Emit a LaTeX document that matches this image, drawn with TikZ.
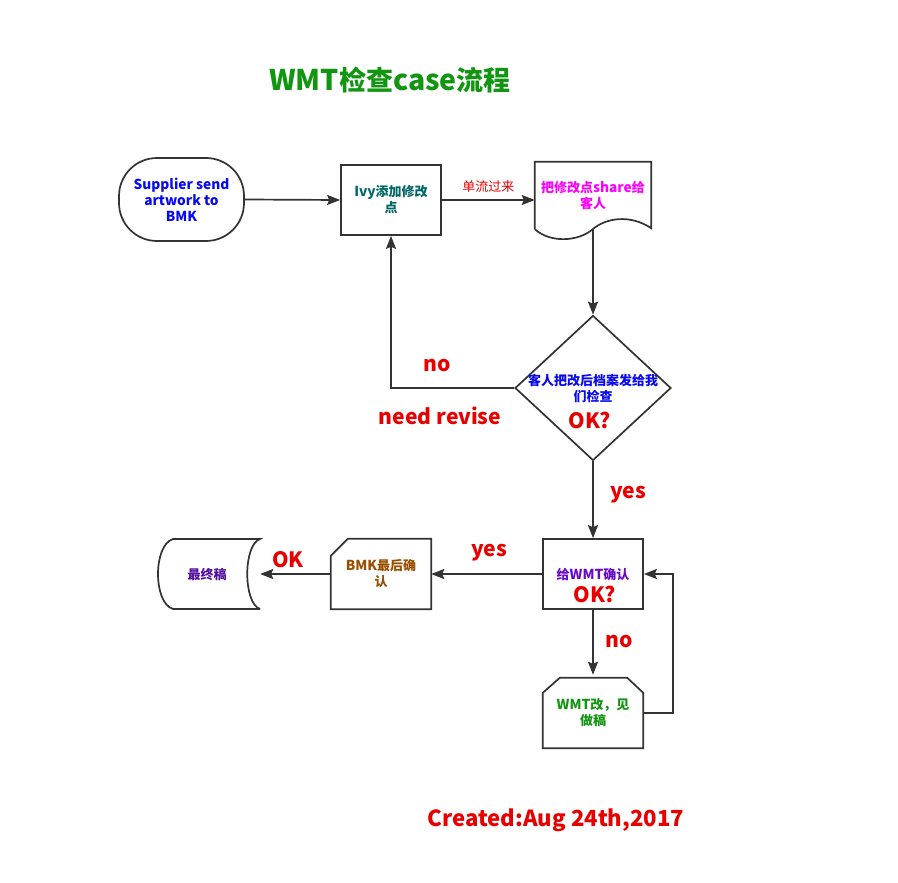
\documentclass[tikz,border=0pt]{standalone}
\usepackage{fontspec}
\setmainfont{Noto Sans CJK SC}[Scale=1.055]
\newfontfamily\zhfont{Noto Sans CJK SC}
\newcommand{\zh}[1]{{\zhfont #1}}
\usetikzlibrary{arrows.meta,shapes.geometric,calc}
\definecolor{lc}{HTML}{333333}
\definecolor{blueT}{HTML}{0A0AF0}
\definecolor{magT}{HTML}{FF00FF}
\definecolor{redT}{HTML}{E80000}
\definecolor{greenT}{HTML}{129612}
\definecolor{tealT}{HTML}{006666}
\definecolor{purpT}{HTML}{6A0ACC}
\definecolor{dpurpT}{HTML}{52109E}
\definecolor{brownT}{HTML}{9A4E00}
\tikzset{
  shp/.style={draw=lc, line width=1.7pt},
  box/.style={shp, minimum width=100pt, minimum height=70pt, inner sep=0pt},
  ghost/.style={inner sep=0pt},
  txt/.style={font=\fontsize{13}{16}\selectfont\bfseries, align=center, inner sep=0pt},
  big/.style={font=\fontsize{20}{24}\selectfont\bfseries, text=redT, inner sep=0pt},
  arr/.style={draw=lc, line width=1.7pt, -{Stealth[length=13pt,width=10pt,inset=2pt]}},
}
\begin{document}
\begin{tikzpicture}[x=1pt,y=-1pt]
\useasboundingbox[fill=white] (0,0) rectangle (898,883);

% title
\node[font=\fontsize{27}{32}\selectfont\bfseries, text=greenT] (title) at (390,80) {WMT\zh{检查}case\zh{流程}};

% supplier
\node[shp, rounded corners=38pt, minimum width=125pt, minimum height=83pt, inner sep=0pt] (sup) at (181.5,199.5) {};
\node[txt, text=blueT] (suptxt) at (181.5,199.5) {Supplier send\\artwork to\\BMK};

% Ivy
\node[box] (ivy) at (391,200) {};
\node[txt, text=tealT] (ivytxt) at (391,200) {Ivy\zh{添加修改}\\\zh{点}};

% document
\node[ghost, minimum width=116pt, minimum height=67pt] (doc) at (593,195.5) {};
\draw[shp] (doc.south west) -- (doc.north west) -- (doc.north east) -- ($(doc.south east)+(0,-1)$)
  .. controls (630,214) and (606,218) .. (593,229)
  .. controls (578,242) and (550,243) .. (doc.south west);
\node[txt, text=magT] (doctxt) at (593,196) {\zh{把修改点}share\zh{给}\\\zh{客人}};

% diamond
\node[shp, diamond, minimum width=156pt, minimum height=145pt, inner sep=0pt] (dia) at (593,388) {};
\node[txt, text=blueT] (diatxt) at (593,388) {\zh{客人把改后档案发给我}\\\zh{们检查}};
\node[big] (diaok) at (590,420) {OK?};

% WMT confirm
\node[box] (wmt) at (593,574) {};
\node[txt, text=purpT] (wmttxt) at (593,575) {\zh{给}WMT\zh{确认}};
\node[big] (wmtok) at (595,594) {OK?};

% BMK
\node[ghost, minimum width=100pt, minimum height=70pt] (bmk) at (381,574) {};
\draw[shp] (bmk.south west) -- ($(bmk.north west)+(0,17)$) -- ($(bmk.north west)+(17,0)$) -- (bmk.north east) -- (bmk.south east) -- cycle;
\node[txt, text=brownT] (bmktxt) at (381,574) {BMK\zh{最后确}\\\zh{认}};

% final
\node[ghost, minimum width=102pt, minimum height=70pt] (fin) at (209,574) {};
\draw[shp] (260,609) -- (173,609) .. controls (153,603) and (153,545) .. (173,539) -- (260,539)
  .. controls (243,545) and (243,603) .. (260,609);
\node[txt, text=dpurpT] (fintxt) at (207,575) {\zh{最终稿}};

% WMT revise
\node[ghost, minimum width=100pt, minimum height=70pt] (wmtc) at (593,713) {};
\draw[shp] (wmtc.south west) -- ($(wmtc.north west)+(0,15)$) -- ($(wmtc.north west)+(17,0)$) -- ($(wmtc.north east)+(-16,0)$) -- ($(wmtc.north east)+(0,15)$) -- (wmtc.south east) -- cycle;
\node[txt, text=greenT] (wmtctxt) at (593,713) {WMT\zh{改，见}\\\zh{做稿}};

% connectors
\draw[arr] (sup.east) -- (ivy.west);
\draw[arr] (ivy.east) -- (ivy.east -| doc.west) node[midway, above=7pt, font=\fontsize{13}{15}\selectfont\zhfont, text=redT, inner sep=0pt] (l1) {单流过来};
\draw[arr] (593,229) -- (dia.north);
\draw[arr] (dia.west) -| (ivy.south);
\node[big] (lno1) at (437,365) {no};
\node[big] (lnr) at (440,416) {need revise};
\draw[arr] (dia.south) -- (wmt.north);
\node[big] (lyes1) at (628,495) {yes};
\draw[arr] (wmt.west) -- (bmk.east);
\node[big] (lyes2) at (489,553) {yes};
\draw[arr] (bmk.west) -- (fin.east);
\node[big] (lok) at (288,560) {OK};
\draw[arr] (wmt.south) -- ($(wmtc.north)+(0,-3)$);
\node[big] (lno2) at (619,641) {no};
\draw[arr] (wmtc.east) -- ++(30,0) |- (wmt.east);

% footer
\node[font=\fontsize{21}{25}\selectfont\bfseries, text=redT] (created) at (556,820) {Created:Aug 24th,2017};
\end{tikzpicture}
\end{document}
